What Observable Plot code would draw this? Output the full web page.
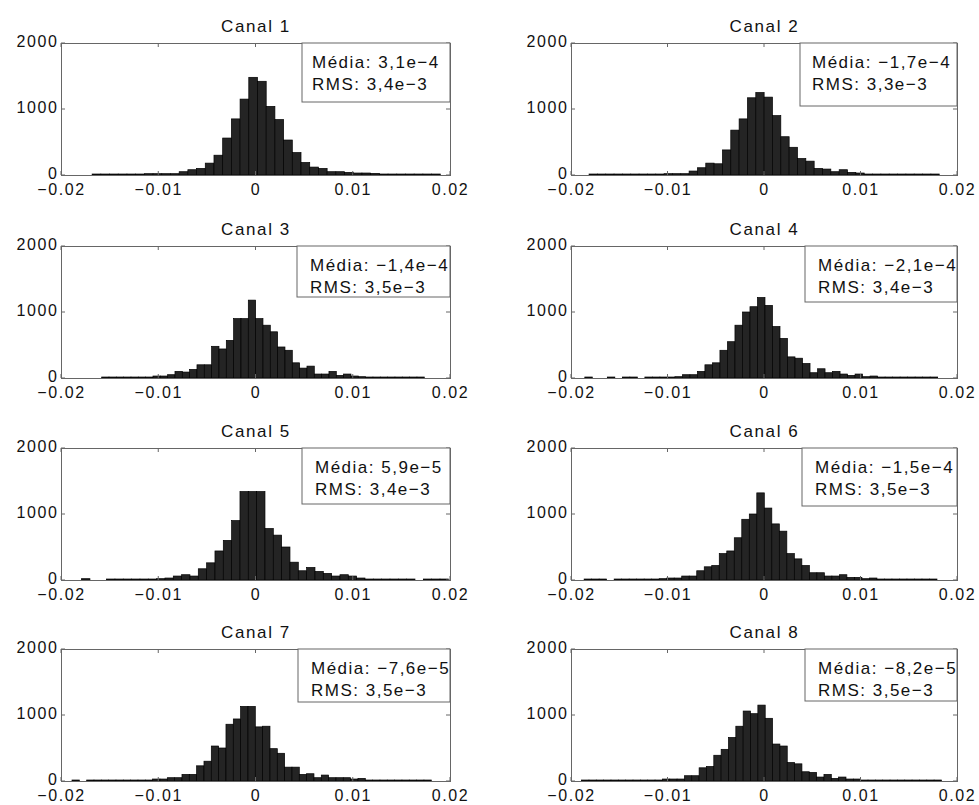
<!DOCTYPE html>
<html><head><meta charset="utf-8">
<script src="https://cdn.jsdelivr.net/npm/d3@7"></script>
<script src="https://cdn.jsdelivr.net/npm/@observablehq/plot@0.6"></script>
<style>
html,body{margin:0;padding:0;background:#fff;}
#wrap{position:relative;width:979px;height:805px;overflow:hidden;background:#fff;}
#wrap svg{position:absolute;overflow:visible;}
#wrap svg text{letter-spacing:1.6px;}
#wrap svg g[aria-label="title"] text{letter-spacing:1.2px;}
#wrap svg g.legend text{letter-spacing:1.5px;}
</style></head><body><div id="wrap"></div>
<script>
// ---- data ----
const channels = ["Canal 1","Canal 2","Canal 3","Canal 4","Canal 5","Canal 6","Canal 7","Canal 8"];
const xTicks = [-0.02, -0.01, 0, 0.01, 0.02];
const yTicks = [0, 1000, 2000];
const meanLabels = ["3,1e−4","−1,7e−4","−1,4e−4","−2,1e−4","5,9e−5","−1,5e−4","−7,6e−5","−8,2e−5"];
const rmsLabels  = ["3,4e−3","3,3e−3","3,5e−3","3,4e−3","3,4e−3","3,5e−3","3,5e−3","3,5e−3"];
// histogram bins: left edge of first bin and bin width per channel
const binStart = [-0.0168, -0.01813, -0.01582, -0.01857, -0.01788, -0.01864, -0.01887, -0.01890];
const binWidth = [0.000895, 0.000864, 0.000754, 0.000778, 0.000857, 0.000778, 0.000754, 0.000761];
const counts1 = [15,15,15,15,15,15,20,20,20,20,50,80,100,180,300,560,850,1150,1480,1420,1040,840,530,340,190,120,100,50,50,40,30,30,25,15,15,15,15,15,15,15];
const counts2 = [15,15,15,15,15,15,15,15,15,20,20,20,60,110,180,170,380,680,850,1170,1250,1180,900,580,420,250,210,100,90,50,80,40,30,15,15,15,15,15,15,15,15,15];
const counts3 = [15,15,15,15,15,15,15,30,30,50,100,90,130,200,200,480,440,570,900,900,1180,900,800,700,470,420,230,150,180,60,60,100,40,60,30,20,15,15,15,15,15,15,15,15];
const counts4 = [15,0,0,15,0,15,15,0,15,15,15,15,20,50,50,100,200,230,420,550,800,1000,1080,1220,1100,780,600,320,300,220,80,140,80,100,60,40,60,20,30,15,15,15,15,15,15,15,15];
const counts5 = [20,0,0,15,15,15,15,15,15,20,30,60,80,60,170,260,440,600,900,1340,1340,1340,780,680,500,270,140,190,130,100,60,80,60,30,15,15,15,15,15,15,0,15,15,15];
const counts6 = [15,15,15,0,15,15,15,15,15,15,20,30,30,60,60,140,200,220,400,440,640,920,1000,1320,1090,850,740,400,320,220,110,110,60,60,80,40,40,20,30,15,15,15,15,15,15,15,15];
const counts7 = [15,0,15,15,15,15,15,15,15,15,15,30,30,50,50,100,100,230,300,530,500,860,940,1130,1130,820,830,490,420,210,210,100,110,50,90,50,50,50,30,40,15,15,15,15,15,15,15,15,15];
const counts8 = [15,15,15,15,15,15,15,15,15,15,15,30,30,30,80,80,200,220,390,480,660,830,1060,1020,1150,950,560,530,280,260,140,130,60,100,40,60,30,30,15,15,15,15,15,15,15,15,15,15,15];
const allCounts = [counts1,counts2,counts3,counts4,counts5,counts6,counts7,counts8];

// ---- layout (not data) ----
const boxW = [148,157,153,152,148,155,152,152];
const boxH = [59,63,51,56,56,58,53,52];
const textPad = [10,12,13,13,13,13,13,13];
const axisTops = [43,246,448,649];
const plotH = 132;
const fontFam = "'Liberation Sans', Arial, Helvetica, sans-serif";
const ink = "#111";
const frameCol = "#666";

function fmtX(d) { return d === 0 ? "0" : (d < 0 ? "−" : "") + String(Math.abs(d)); }

function decorations(c) {
  return (index, scales, values, dims) => {
    const g = d3.create("svg:g").attr("class", "legend");
    const x = scales.x, y = scales.y;
    const left = dims.marginLeft, right = dims.width - dims.marginRight;
    const top = dims.marginTop, bottom = dims.height - dims.marginBottom;
    for (const t of xTicks) {
      const px = x(t);
      g.append("line").attr("x1", px).attr("x2", px).attr("y1", bottom).attr("y2", bottom - 4).attr("stroke", frameCol);
      g.append("line").attr("x1", px).attr("x2", px).attr("y1", top).attr("y2", top + 4).attr("stroke", frameCol);
    }
    for (const t of yTicks) {
      const py = y(t);
      g.append("line").attr("x1", left).attr("x2", left + 4).attr("y1", py).attr("y2", py).attr("stroke", frameCol);
      g.append("line").attr("x1", right).attr("x2", right - 4).attr("y1", py).attr("y2", py).attr("stroke", frameCol);
    }
    const bx = right - boxW[c];
    g.append("rect").attr("x", bx).attr("y", top).attr("width", boxW[c]).attr("height", boxH[c])
      .attr("fill", "white").attr("stroke", frameCol).attr("stroke-width", 1);
    const tx = bx + textPad[c];
    g.append("text").attr("x", tx).attr("y", top + 25).attr("fill", ink).attr("font-size", 17)
      .attr("text-anchor", "start").attr("font-family", fontFam).text("Média: " + meanLabels[c]);
    g.append("text").attr("x", tx).attr("y", top + 47).attr("fill", ink).attr("font-size", 17)
      .attr("text-anchor", "start").attr("font-family", fontFam).text("RMS: " + rmsLabels[c]);
    return g.node();
  };
}

const wrap = document.getElementById("wrap");
for (let c = 0; c < 8; c++) {
  const col = c % 2, row = Math.floor(c / 2);
  const L = col === 0 ? {left: 0, width: 480, ml: 61, mr: 30} : {left: 490, width: 489, ml: 81, mr: 22};
  const bins = allCounts[c].map((n, i) => ({
    x1: binStart[c] + i * binWidth[c],
    x2: binStart[c] + (i + 1) * binWidth[c],
    n
  })).filter(d => d.n > 0);
  const svg = Plot.plot({
    width: L.width,
    height: 43 + plotH + 24,
    marginTop: 43, marginBottom: 24, marginLeft: L.ml, marginRight: L.mr,
    x: {domain: [-0.02, 0.02]},
    y: {domain: [0, 2000]},
    style: {fontFamily: fontFam, fontSize: "16px", color: ink, background: "white", overflow: "visible"},
    marks: [
      Plot.rect(bins, {x1: "x1", x2: "x2", y1: 0, y2: "n", fill: "#242424", stroke: "#000", strokeWidth: 0.7}),
      Plot.frame({stroke: frameCol}),
      decorations(c),
      Plot.axisX(xTicks, {tickSize: 0, tickPadding: 8, fontSize: 16, tickFormat: fmtX, label: null, fill: ink}),
      Plot.axisY(yTicks, {tickSize: 0, tickPadding: 3, fontSize: 16, tickFormat: d => String(d), label: null, fill: ink, dy: -2}),
      Plot.text([channels[c]], {text: d => d, frameAnchor: "top", dy: -12, lineAnchor: "bottom", fontSize: 17, fill: ink, ariaLabel: "title"})
    ]
  });
  svg.style.left = L.left + "px";
  svg.style.top = (axisTops[row] - 43) + "px";
  wrap.appendChild(svg);
}
</script></body></html>
